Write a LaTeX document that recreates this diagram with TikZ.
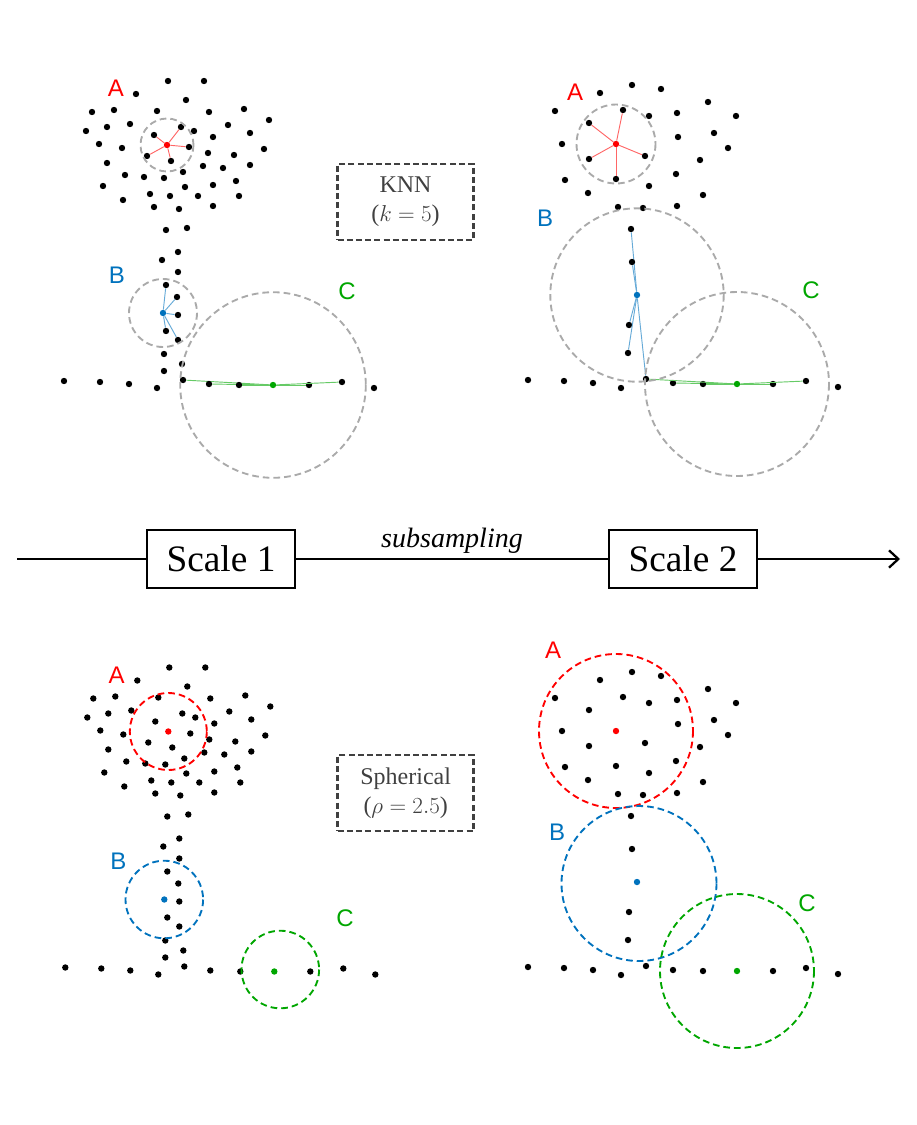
\documentclass[tikz,border=0pt]{standalone}
\usepackage{fontspec}
\setmainfont{Liberation Serif}
\newfontfamily\labelfont{Liberation Sans}
\usetikzlibrary{
  positioning,
  arrows.meta,
}
\definecolor{ptred}{RGB}{255,0,0}
\definecolor{ptblue}{RGB}{0,114,189}
\definecolor{ptgreen}{RGB}{0,166,0}
\definecolor{ballgray}{RGB}{170,170,170}
\definecolor{boxgray}{RGB}{64,64,64}
\newcommand\cloudone{(168,81),(204,81),(136,94),(186,100),(92,112),(114,110),
  (157,111),(209,112),(244,109),(269,120),(86,131),(107,127),(130,124),(194,131),
  (228,125),(250,133),(213,137),(99,144),(122,148),(208,153),(234,155),(264,149),
  (107,163),(203,166),(223,168),(250,165),(125,175),(144,177),(164,178),(183,172),
  (103,186),(185,187),(213,185),(236,181),(123,200),(150,194),(170,196),(198,196),
  (239,196),(154,207),(179,209),(213,206),(166,230),(187,228),(178,252),(162,260),
  (178,272),(164,354),(182,364),(164,371),(64,381),(100,382),(129,384),(157,388),
  (374,388)}
\newcommand\nearAone{(154,135),(181,127),(189,147),(147,156),(171,161)}
\newcommand\nearBone{(166,285),(177,297),(178,315),(166,331),(178,340)}
\newcommand\nearCone{(183,380),(209,384),(239,385),(309,385),(342,382)}
\newcommand\cloudtwo{(632,85),(661,89),(600,93),(708,102),(555,111),(649,116),
  (677,113),(736,116),(562,144),(678,137),(714,133),(728,148),(700,160),(565,180),
  (676,174),(649,186),(588,193),(703,195),(618,207),(643,208),(677,206),(528,380),
  (564,381),(593,383),(621,388),(838,387)}
\newcommand\nearAtwo{(623,110),(589,123),(589,159),(645,156),(616,179)}
\newcommand\nearBtwo{(631,229),(632,262),(629,325),(628,353)}
\newcommand\nearCtwo{(673,383),(703,384),(773,384),(806,381)}
\tikzset{
  >={Straight Barb[length=7pt,width=13pt]},
  dot/.style={
    circle,
    fill=black,
    inner sep=0pt,
    minimum size=4.8pt,
  },
  knn line/.style={
    draw=#1!60,
    line width=0.7pt,
  },
  ball/.style={
    line width=1.4pt,
    dash pattern=on 5pt off 3pt,
  },
  tag/.style={
    text=#1,
    font={\labelfont\fontsize{18}{18}\selectfont},
  },
  method/.style={
    draw=boxgray,
    text=boxgray,
    line width=2pt,
    dash pattern=on 4.5pt off 2.4pt,
    minimum width=102pt,
    minimum height=57pt,
    align=center,
    font=\fontsize{18}{22}\selectfont,
  },
  scalebox/.style={
    draw,
    line width=2.2pt,
    fill=white,
    minimum width=111pt,
    minimum height=43.5pt,
    font=\fontsize{28}{28}\selectfont,
  },
  axis line/.style={
    line width=1.7pt,
  },
}

\begin{document}
\begin{tikzpicture}[x=0.75pt, y=-0.75pt]
  \useasboundingbox (0,0) rectangle (917,1125);

  % KNN, scale 1
  \begin{scope}
    \foreach \p [count=\i] in \cloudone \node[dot] (k1-\i) at \p {};
    \node[dot, fill=ptred] (k1A) at (167,145) {};
    \node[dot, fill=ptblue] (k1B) at (163,313) {};
    \node[dot, fill=ptgreen] (k1C) at (273,385) {};
    \foreach \p [count=\i] in \nearAone {
      \node[dot] (k1A-\i) at \p {};
      \draw[knn line=ptred] (k1A) -- (k1A-\i);
    }
    \foreach \p [count=\i] in \nearBone {
      \node[dot] (k1B-\i) at \p {};
      \draw[knn line=ptblue] (k1B) -- (k1B-\i);
    }
    \foreach \p [count=\i] in \nearCone {
      \node[dot] (k1C-\i) at \p {};
      \draw[knn line=ptgreen] (k1C) -- (k1C-\i);
    }
    \draw[ball, ballgray] (k1A) circle[radius=26.5];
    \draw[ball, ballgray] (k1B) circle[radius=34];
    \draw[ball, ballgray] (k1C) circle[radius=92.8];
    \node[tag=ptred] (k1tagA) at (116,88) {A};
    \node[tag=ptblue] (k1tagB) at (117,275) {B};
    \node[tag=ptgreen] (k1tagC) at (347,291) {C};
  \end{scope}

  % KNN, scale 2
  \begin{scope}
    \foreach \p [count=\i] in \cloudtwo \node[dot] (k2-\i) at \p {};
    \node[dot, fill=ptred] (k2A) at (616,144) {};
    \node[dot, fill=ptblue] (k2B) at (637,295) {};
    \node[dot, fill=ptgreen] (k2C) at (737,384) {};
    \node[dot] (k2J) at (646,379) {};
    \foreach \p [count=\i] in \nearAtwo {
      \node[dot] (k2A-\i) at \p {};
      \draw[knn line=ptred] (k2A) -- (k2A-\i);
    }
    \foreach \p [count=\i] in \nearBtwo {
      \node[dot] (k2B-\i) at \p {};
      \draw[knn line=ptblue] (k2B) -- (k2B-\i);
    }
    \foreach \p [count=\i] in \nearCtwo {
      \node[dot] (k2C-\i) at \p {};
      \draw[knn line=ptgreen] (k2C) -- (k2C-\i);
    }
    \draw[knn line=ptblue] (k2B) -- (k2J);
    \draw[knn line=ptgreen] (k2C) -- (k2J);
    \draw[ball, ballgray] (k2A) circle[radius=39.5];
    \draw[ball, ballgray] (k2B) circle[radius=86.7];
    \draw[ball, ballgray] (k2C) circle[radius=92];
    \node[tag=ptred] (k2tagA) at (575,92) {A};
    \node[tag=ptblue] (k2tagB) at (545,218) {B};
    \node[tag=ptgreen] (k2tagC) at (811,290) {C};
  \end{scope}

  \node[method] (knn) at (405.5,202) {KNN\\($k=5$)};

  % subsampling axis
  \coordinate (axis start) at (17,559);
  \coordinate (axis end) at (900,559);
  \node[scalebox] (scale1) at (221,559) {Scale 1};
  \node[scalebox] (scale2) at (683,559) {Scale 2};
  \node[anchor=base, font=\itshape\fontsize{21}{21}\selectfont] (subs)
    at (452,547.5) {subsampling};
  \draw[axis line] (axis start) -- (scale1);
  \draw[axis line] (scale1) -- (scale2);
  \draw[axis line, ->] (scale2) -- (axis end);

  % Spherical, scale 1
  \begin{scope}[shift={(1.3,586.5)}]
    \foreach \p [count=\i] in \cloudone \node[dot] (s1-\i) at \p {};
    \foreach \p [count=\i] in \nearAone \node[dot] (s1A-\i) at \p {};
    \foreach \p [count=\i] in \nearBone \node[dot] (s1B-\i) at \p {};
    \foreach \p [count=\i] in \nearCone \node[dot] (s1C-\i) at \p {};
    \node[dot, fill=ptred] (s1A) at (167,145) {};
    \node[dot, fill=ptblue] (s1B) at (163,313) {};
    \node[dot, fill=ptgreen] (s1C) at (273,385) {};
    \coordinate (s1Cball) at (279,383);
    \draw[ball, ptred] (s1A) circle[radius=38.5];
    \draw[ball, ptblue] (s1B) circle[radius=38.8];
    \draw[ball, ptgreen] (s1Cball) circle[radius=38.8];
    \node[tag=ptred] (s1tagA) at (115.4,88.5) {A};
    \node[tag=ptblue] (s1tagB) at (117,275.2) {B};
    \node[tag=ptgreen] (s1tagC) at (343.7,331.8) {C};
  \end{scope}

  % Spherical, scale 2
  \begin{scope}[shift={(0,587)}]
    \foreach \p [count=\i] in \cloudtwo \node[dot] (s2-\i) at \p {};
    \foreach \p [count=\i] in \nearAtwo \node[dot] (s2A-\i) at \p {};
    \foreach \p [count=\i] in \nearBtwo \node[dot] (s2B-\i) at \p {};
    \foreach \p [count=\i] in \nearCtwo \node[dot] (s2C-\i) at \p {};
    \node[dot] (s2J) at (646,379) {};
    \node[dot, fill=ptred] (s2A) at (616,144) {};
    \node[dot, fill=ptblue] (s2B) at (637,295) {};
    \node[dot, fill=ptgreen] (s2C) at (737,384) {};
    \coordinate (s2Bball) at (639,296.5);
    \draw[ball, ptred] (s2A) circle[radius=77];
    \draw[ball, ptblue] (s2Bball) circle[radius=77.5];
    \draw[ball, ptgreen] (s2C) circle[radius=77];
    \node[tag=ptred] (s2tagA) at (553,63) {A};
    \node[tag=ptblue] (s2tagB) at (557,245) {B};
    \node[tag=ptgreen] (s2tagC) at (807,316) {C};
  \end{scope}

  \node[method] (sph) at (405.7,793) {Spherical\\($\rho=2.5$)};
\end{tikzpicture}
\end{document}
